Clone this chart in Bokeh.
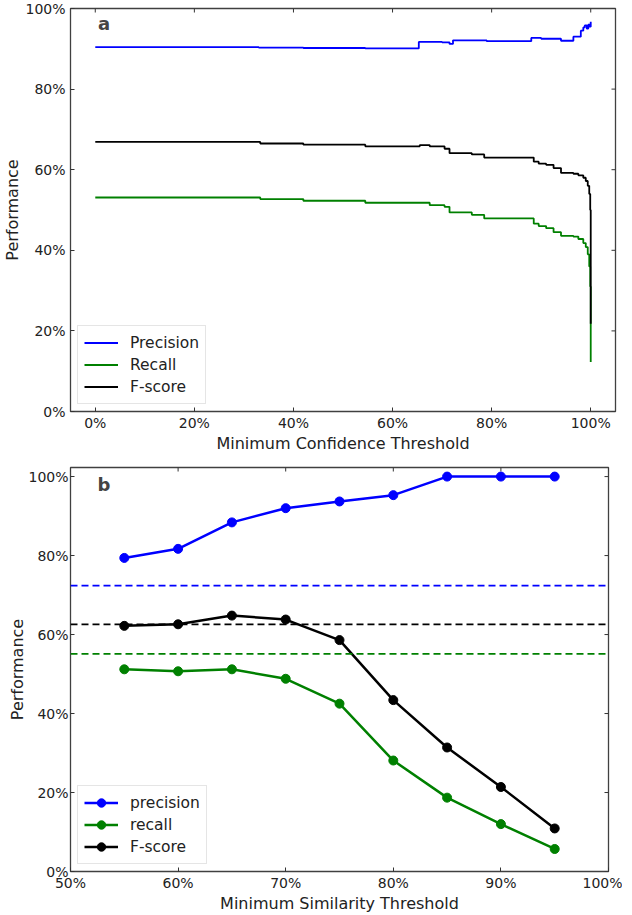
from bokeh.plotting import figure
from bokeh.layouts import column
from bokeh.models import (Range1d, FixedTicker, NumeralTickFormatter,
                          Span, Label, Legend, LegendItem)
from bokeh.embed import file_html
from bokeh.resources import INLINE

# ---------------- data: panel a (step curves vs confidence threshold) -------------
prec_x = [0.0, 0.33, 0.42, 0.545, 0.653, 0.70, 0.715, 0.722, 0.79, 0.88, 0.90, 0.94,
          0.965, 0.98, 0.985, 0.988, 0.992, 0.995, 0.998, 1.0]
prec_y = [0.904, 0.903, 0.902, 0.901, 0.917, 0.916, 0.912, 0.921, 0.919, 0.927, 0.925,
          0.920, 0.930, 0.945, 0.953, 0.958, 0.950, 0.960, 0.955, 0.967]

rec_x = [0.0, 0.333, 0.42, 0.545, 0.675, 0.705, 0.715, 0.76, 0.785, 0.885, 0.895, 0.91,
         0.925, 0.94, 0.965, 0.975, 0.985, 0.99, 0.994, 0.997, 0.999, 1.0]
rec_y = [0.531, 0.527, 0.523, 0.518, 0.512, 0.508, 0.494, 0.488, 0.479, 0.466, 0.460,
         0.455, 0.445, 0.436, 0.434, 0.428, 0.418, 0.408, 0.390, 0.360, 0.310, 0.123]

f_x = [0.0, 0.333, 0.42, 0.545, 0.655, 0.675, 0.705, 0.715, 0.76, 0.785, 0.885, 0.895,
       0.91, 0.925, 0.94, 0.965, 0.975, 0.985, 0.99, 0.994, 0.997, 0.999, 1.0]
f_y = [0.669, 0.665, 0.662, 0.658, 0.661, 0.658, 0.652, 0.641, 0.638, 0.630, 0.620,
       0.615, 0.612, 0.604, 0.592, 0.590, 0.586, 0.580, 0.572, 0.560, 0.540, 0.500, 0.218]

conf_ticks = [0.0, 0.2, 0.4, 0.6, 0.8, 1.0]
perf_ticks = [0.0, 0.2, 0.4, 0.6, 0.8, 1.0]

# ---------------- data: panel b (vs similarity threshold) -------------------------
sim_x = [0.55, 0.60, 0.65, 0.70, 0.75, 0.80, 0.85, 0.90, 0.95]
sim_precision = [0.794, 0.817, 0.884, 0.920, 0.937, 0.953, 1.0, 1.0, 1.0]
sim_recall = [0.512, 0.507, 0.512, 0.488, 0.425, 0.281, 0.187, 0.120, 0.057]
sim_fscore = [0.622, 0.626, 0.648, 0.638, 0.586, 0.434, 0.314, 0.214, 0.109]
baseline_precision = 0.724
baseline_recall = 0.551
baseline_fscore = 0.626
sim_ticks = [0.5, 0.6, 0.7, 0.8, 0.9, 1.0]

BLUE = "#0000ff"
GREEN = "#008000"
BLACK = "#000000"
FONT = "DejaVu Sans"
TICK_PX = 4


def style(p, xticks, yticks, xlabel, fw, fh, ylab_standoff, ytick_standoff):
    p.xgrid.visible = False
    p.ygrid.visible = False
    p.outline_line_color = "#404040"
    p.outline_line_width = 1.3
    p.background_fill_color = "white"
    p.border_fill_color = "white"
    for ax, ticks in ((p.xaxis[0], xticks), (p.yaxis[0], yticks)):
        ax.ticker = FixedTicker(ticks=ticks)
        ax.formatter = NumeralTickFormatter(format="0%")
        ax.major_tick_in = TICK_PX
        ax.major_tick_out = 0
        ax.major_tick_line_color = "#333333"
        ax.minor_tick_line_color = None
        ax.axis_line_color = None
        ax.major_label_text_font = FONT
        ax.major_label_text_font_size = "14px"
        ax.major_label_text_color = "#222222"
        ax.axis_label_text_font = FONT
        ax.axis_label_text_font_size = "16px"
        ax.axis_label_text_font_style = "normal"
        ax.axis_label_text_color = "#222222"
    p.xaxis[0].major_label_standoff = 3
    p.xaxis[0].axis_label_standoff = 0
    p.yaxis[0].major_label_standoff = ytick_standoff
    p.yaxis[0].axis_label_standoff = ylab_standoff
    p.xaxis[0].axis_label = xlabel
    p.yaxis[0].axis_label = "Performance"
    # inward ticks on the top and right edges of the frame (mirrors of the main ticks)
    x0, x1 = p.x_range.start, p.x_range.end
    y0, y1 = p.y_range.start, p.y_range.end
    dy = TICK_PX * (y1 - y0) / fh
    dx = TICK_PX * (x1 - x0) / fw
    p.segment(x0=xticks, y0=[y1] * len(xticks), x1=xticks, y1=[y1 - dy] * len(xticks),
              line_color="#333333", line_width=1)
    p.segment(x0=[x1] * len(yticks), y0=yticks, x1=[x1 - dx] * len(yticks), y1=yticks,
              line_color="#333333", line_width=1)


def style_legend(leg):
    leg.label_text_font = FONT
    leg.label_text_font_size = "15.5px"
    leg.label_text_color = "#222222"
    leg.glyph_width = 34
    leg.glyph_height = 21
    leg.label_standoff = 12
    leg.spacing = 1
    leg.padding = 6
    leg.margin = 7
    leg.border_line_color = "#cccccc"
    leg.border_line_width = 1
    leg.background_fill_alpha = 0.9
    leg.location = "bottom_left"


# ---------------- panel a ----------------
FW1, FH1 = 545, 403
p1 = figure(frame_width=FW1, frame_height=FH1, output_backend="svg", toolbar_location=None,
            x_range=Range1d(-0.05, 1.05), y_range=Range1d(0.0, 1.0),
            min_border_left=69, min_border_top=8, min_border_right=2, min_border_bottom=2)
style(p1, conf_ticks, perf_ticks, "Minimum Confidence Threshold", FW1, FH1, 0, 5)
r_p = p1.step(prec_x, prec_y, mode="after", line_color=BLUE, line_width=1.8)
r_r = p1.step(rec_x, rec_y, mode="after", line_color=GREEN, line_width=1.8)
r_f = p1.step(f_x, f_y, mode="after", line_color=BLACK, line_width=1.8)
leg1 = Legend(items=[LegendItem(label="Precision", renderers=[r_p]),
                     LegendItem(label="Recall", renderers=[r_r]),
                     LegendItem(label="F-score", renderers=[r_f])])
style_legend(leg1)
p1.add_layout(leg1, "center")
p1.add_layout(Label(x=0.018, y=0.962, text="a", text_font=FONT, text_font_size="18px",
                    text_font_style="bold", text_baseline="middle", text_align="center"))

# ---------------- panel b ----------------
FW2, FH2 = 538, 404
p2 = figure(frame_width=FW2, frame_height=FH2, output_backend="svg", toolbar_location=None,
            x_range=Range1d(0.5, 1.0), y_range=Range1d(0.0, 1.023),
            min_border_left=0, min_border_top=12, min_border_right=19, min_border_bottom=2)
style(p2, sim_ticks, perf_ticks, "Minimum Similarity Threshold", FW2, FH2, -2, 2)
for loc, col in ((baseline_precision, BLUE), (baseline_fscore, BLACK), (baseline_recall, GREEN)):
    p2.add_layout(Span(location=loc, dimension="width", line_color=col, line_width=1.8,
                       line_dash="7 4"))
items = []
for name, vals, col in (("precision", sim_precision, BLUE), ("recall", sim_recall, GREEN),
                        ("F-score", sim_fscore, BLACK)):
    rl = p2.line(sim_x, vals, line_color=col, line_width=2.5)
    rs = p2.scatter(sim_x, vals, size=9, fill_color=col, line_color=col)
    items.append(LegendItem(label=name, renderers=[rl, rs]))
leg2 = Legend(items=items)
style_legend(leg2)
p2.add_layout(leg2, "center")
p2.add_layout(Label(x=0.531, y=0.98, text="b", text_font=FONT, text_font_size="18px",
                    text_font_style="bold", text_baseline="middle", text_align="center"))

layout = column(p1, p2, spacing=0)
open("out.html", "w").write(file_html(layout, INLINE))
